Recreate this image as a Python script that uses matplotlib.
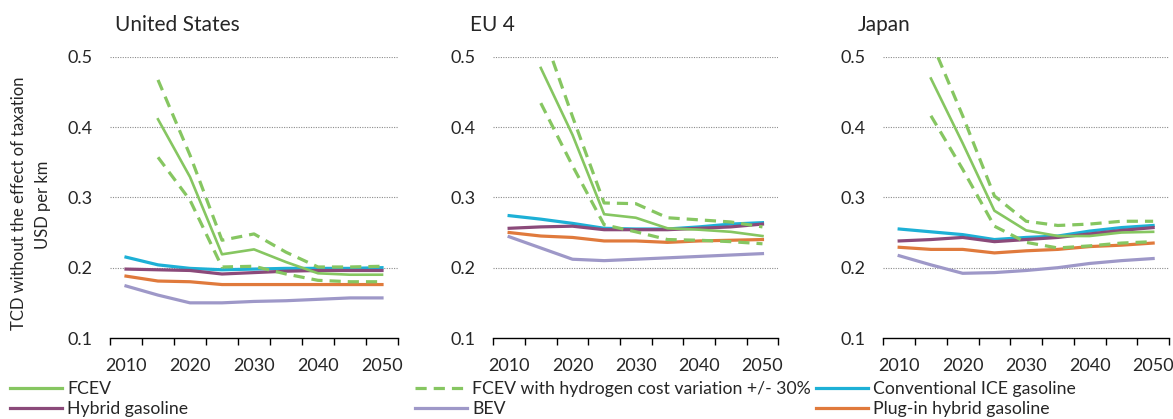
import matplotlib
matplotlib.use("Agg")
import matplotlib.pyplot as plt
from matplotlib.lines import Line2D
import numpy as np

plt.rcParams['font.family'] = ['Lato', 'DejaVu Sans']

years = [2010, 2015, 2020, 2025, 2030, 2035, 2040, 2045, 2050]
year_labels = ['2010', '', '2020', '', '2030', '', '2040', '', '2050']
regions = ['United States', 'EU 4', 'Japan']
nan = np.nan

# United States
us_fcev     = [nan, 0.411, 0.329, 0.219, 0.226, 0.208, 0.192, 0.190, 0.190]
us_fcev_hi  = [nan, 0.467, 0.360, 0.239, 0.248, 0.222, 0.201, 0.201, 0.202]
us_fcev_lo  = [nan, 0.357, 0.296, 0.201, 0.202, 0.191, 0.182, 0.180, 0.180]
us_ice      = [0.215, 0.204, 0.199, 0.197, 0.198, 0.199, 0.199, 0.199, 0.200]
us_hybrid   = [0.198, 0.197, 0.196, 0.191, 0.193, 0.195, 0.196, 0.196, 0.196]
us_phev     = [0.188, 0.181, 0.180, 0.176, 0.176, 0.176, 0.176, 0.176, 0.176]
us_bev      = [0.174, 0.161, 0.150, 0.150, 0.152, 0.153, 0.155, 0.157, 0.157]

# EU 4
eu_fcev     = [nan, 0.484, 0.389, 0.276, 0.271, 0.256, 0.254, 0.251, 0.245]
eu_fcev_hi  = [nan, 0.543, 0.415, 0.292, 0.291, 0.271, 0.268, 0.265, 0.258]
eu_fcev_lo  = [nan, 0.434, 0.345, 0.261, 0.251, 0.240, 0.239, 0.237, 0.234]
eu_ice      = [0.274, 0.269, 0.263, 0.256, 0.255, 0.255, 0.258, 0.262, 0.264]
eu_hybrid   = [0.256, 0.258, 0.259, 0.254, 0.254, 0.254, 0.256, 0.258, 0.262]
eu_phev     = [0.250, 0.245, 0.243, 0.238, 0.238, 0.236, 0.238, 0.239, 0.240]
eu_bev      = [0.244, 0.228, 0.212, 0.210, 0.212, 0.214, 0.216, 0.218, 0.220]

# Japan
jp_fcev     = [nan, 0.469, 0.377, 0.281, 0.253, 0.245, 0.245, 0.250, 0.251]
jp_fcev_hi  = [nan, 0.523, 0.416, 0.302, 0.266, 0.260, 0.262, 0.266, 0.266]
jp_fcev_lo  = [nan, 0.416, 0.340, 0.259, 0.236, 0.228, 0.231, 0.235, 0.237]
jp_ice      = [0.255, 0.251, 0.247, 0.240, 0.243, 0.245, 0.252, 0.257, 0.260]
jp_hybrid   = [0.238, 0.240, 0.243, 0.237, 0.240, 0.243, 0.248, 0.253, 0.257]
jp_phev     = [0.229, 0.226, 0.226, 0.221, 0.224, 0.226, 0.230, 0.232, 0.235]
jp_bev      = [0.217, 0.204, 0.192, 0.193, 0.196, 0.200, 0.206, 0.210, 0.213]

data = [
    (us_fcev, us_fcev_hi, us_fcev_lo, us_ice, us_hybrid, us_phev, us_bev),
    (eu_fcev, eu_fcev_hi, eu_fcev_lo, eu_ice, eu_hybrid, eu_phev, eu_bev),
    (jp_fcev, jp_fcev_hi, jp_fcev_lo, jp_ice, jp_hybrid, jp_phev, jp_bev),
]

c_fcev = '#86C661'
c_ice = '#1DB0D6'
c_hyb = '#8B4A7A'
c_bev = '#9E98C8'
c_phev = '#E07A3C'
txt = '#262626'

W, H = 1173, 419
fig = plt.figure(figsize=(W / 100, H / 100), dpi=100)

ax_lefts = [110, 493.3, 883.3]
ax_widths = [288, 285, 285.7]
top_px, bot_px = 56.7, 338.0

x = np.arange(len(years))
for i, (ax_l, ax_w) in enumerate(zip(ax_lefts, ax_widths)):
    ax = fig.add_axes([ax_l / W, (H - bot_px) / H, ax_w / W, (bot_px - top_px) / H])
    fcev, hi, lo, ice, hyb, phev, bev = data[i]
    ax.plot(x, bev, color=c_bev, lw=2.3, zorder=3)
    ax.plot(x, phev, color=c_phev, lw=2.3, zorder=3)
    ax.plot(x, ice, color=c_ice, lw=2.3, zorder=3)
    ax.plot(x, hyb, color=c_hyb, lw=2.3, zorder=4)
    ax.plot(x, fcev, color=c_fcev, lw=1.9, zorder=5)
    ax.plot(x, hi, color=c_fcev, lw=2.3, dashes=(3.5, 2.2), zorder=5)
    ax.plot(x, lo, color=c_fcev, lw=2.3, dashes=(3.5, 2.2), zorder=5)

    ax.set_xlim(-0.5, len(years) - 0.5)
    ax.set_ylim(0.1, 0.5)
    ax.set_yticks([0.1, 0.2, 0.3, 0.4, 0.5])
    ax.set_yticklabels(['0.1', '0.2', '0.3', '0.4', '0.5'])
    for yv in [0.2, 0.3, 0.4, 0.5]:
        ax.axhline(yv, color='#8C8C8C', lw=0.8, ls=(0, (1, 1.2)), zorder=1)
    ax.tick_params(axis='y', length=0, pad=12.5, labelsize=13, colors=txt)
    ax.set_xticks(np.arange(-0.5, len(years), 1.0))
    ax.set_xticklabels([])
    ax.tick_params(axis='x', which='major', direction='out', length=5,
                   width=1, color='black')
    ax.set_xticks(x, minor=True)
    ax.set_xticklabels(year_labels, minor=True)
    ax.tick_params(axis='x', which='minor', length=0, pad=14.5, labelsize=13,
                   labelcolor=txt)
    for s in ['top', 'right', 'left']:
        ax.spines[s].set_visible(False)
    ax.spines['bottom'].set_color('black')
    ax.spines['bottom'].set_linewidth(1)
    ax.patch.set_alpha(0)

title_x = [115, 470, 858]
for t, tx in zip(regions, title_x):
    fig.text(tx / W, 1 - 25 / H, t, fontsize=15, color=txt,
             ha='left', va='center')

fig.text(19 / W, 1 - 203 / H, 'TCD without the effect of taxation', rotation=90,
         fontsize=12, ha='center', va='center', color=txt)
fig.text(43 / W, 1 - 205 / H, 'USD per km', rotation=90,
         fontsize=12, ha='center', va='center', color=txt)

legend_cols = [
    (10, [('FCEV', c_fcev, '-'), ('Hybrid gasoline', c_hyb, '-')]),
    (415, [('FCEV with hydrogen cost variation +/- 30%', c_fcev, '--'), ('BEV', c_bev, '-')]),
    (816, [('Conventional ICE gasoline', c_ice, '-'), ('Plug-in hybrid gasoline', c_phev, '-')]),
]
for lx, entries in legend_cols:
    handles = []
    labels = []
    for lab, col, ls in entries:
        if ls == '--':
            h = Line2D([], [], color=col, lw=2.3, dashes=(3.5, 2.2))
        else:
            h = Line2D([], [], color=col, lw=2.3)
        handles.append(h)
        labels.append(lab)
    fig.legend(handles, labels, loc='upper left',
               bbox_to_anchor=(lx / W, 1 - 381 / H), frameon=False,
               fontsize=12.7, handlelength=2.95, handletextpad=0.3,
               labelspacing=0.25, borderaxespad=0, borderpad=0,
               labelcolor=txt)

fig.savefig('out.png', dpi=100)
